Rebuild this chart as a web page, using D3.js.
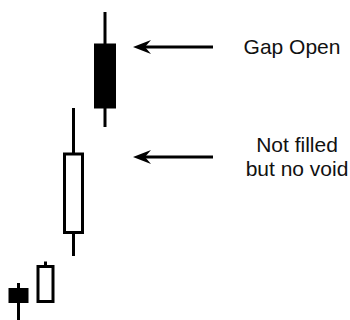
<!DOCTYPE html>
<html>
<head>
<meta charset="utf-8">
<script src="https://cdn.jsdelivr.net/npm/d3@7"></script>
<style>
  body { margin: 0; background: #fff; }
  svg { display: block; }
  .label { font-family: "Liberation Sans", Arial, sans-serif; font-size: 21px; fill: #111; }
</style>
</head>
<body>
<div id="chart"></div>
<script>
// candle data (x = session position, prices in arbitrary units)
const sessions = [1.85, 4.55, 7.35, 10.5];
const opens  = [3.15, 1.85, 8.75, 27.6];
const closes = [1.75, 5.35, 16.6, 21.2];
const highs  = [3.7, 5.85, 21.2, 30.8];
const lows   = [-1, 1.85, 6.4, 19.3];

// notes pointing at the candles
const noteLevels = [27.3, 16.3];
const noteLines = [["Gap Open"], ["Not filled", "but no void"]];

const width = 350;
const height = 320;

const candles = sessions.map((s, i) => ({
  s: s, open: opens[i], close: closes[i], high: highs[i], low: lows[i]
}));

const svg = d3.select("#chart")
  .append("svg")
    .attr("width", width)
    .attr("height", height);

const x = d3.scaleLinear().domain([0, 35]).range([0, width]);
const y = d3.scaleLinear().domain([0, 32]).range([height, 0]);

const bodyW = [19, 15, 18, 21];

const g = svg.selectAll(".candle")
  .data(candles)
  .join("g")
    .attr("class", "candle");

// wicks
g.append("line")
  .attr("x1", d => x(d.s))
  .attr("x2", d => x(d.s))
  .attr("y1", d => y(d.high))
  .attr("y2", d => y(d.low))
  .attr("stroke", "#000")
  .attr("stroke-width", 3);

// bodies: black when it closed lower, hollow otherwise
g.append("rect")
  .attr("x", (d, i) => x(d.s) - bodyW[i] / 2)
  .attr("y", d => y(Math.max(d.open, d.close)))
  .attr("width", (d, i) => bodyW[i])
  .attr("height", d => Math.abs(y(d.open) - y(d.close)))
  .attr("fill", d => d.close < d.open ? "#000" : "#fff")
  .attr("stroke", "#000")
  .attr("stroke-width", d => d.close < d.open ? 1 : 3);

// arrows
const arrowX1 = 133, arrowX2 = 213;
const notes = svg.selectAll(".note")
  .data(noteLevels)
  .join("g")
    .attr("class", "note");

notes.append("line")
  .attr("x1", arrowX1 + 6)
  .attr("x2", arrowX2)
  .attr("y1", d => y(d))
  .attr("y2", d => y(d))
  .attr("stroke", "#000")
  .attr("stroke-width", 3);

notes.append("path")
  .attr("d", d => {
    const yy = y(d);
    return `M${arrowX1},${yy} L${arrowX1 + 18},${yy - 7} L${arrowX1 + 12},${yy} L${arrowX1 + 18},${yy + 7} Z`;
  })
  .attr("fill", "#000");

// labels
const labelX = [292, 297];
notes.each(function(d, i) {
  const lines = noteLines[i];
  const t = d3.select(this).append("text")
    .attr("class", "label")
    .attr("text-anchor", "middle")
    .attr("x", labelX[i])
    .attr("y", y(d) + 7 - (lines.length - 1) * 12);
  lines.forEach((l, k) => {
    t.append("tspan")
      .attr("x", labelX[i])
      .attr("dy", k === 0 ? 0 : 24)
      .text(l);
  });
});
</script>
</body>
</html>
